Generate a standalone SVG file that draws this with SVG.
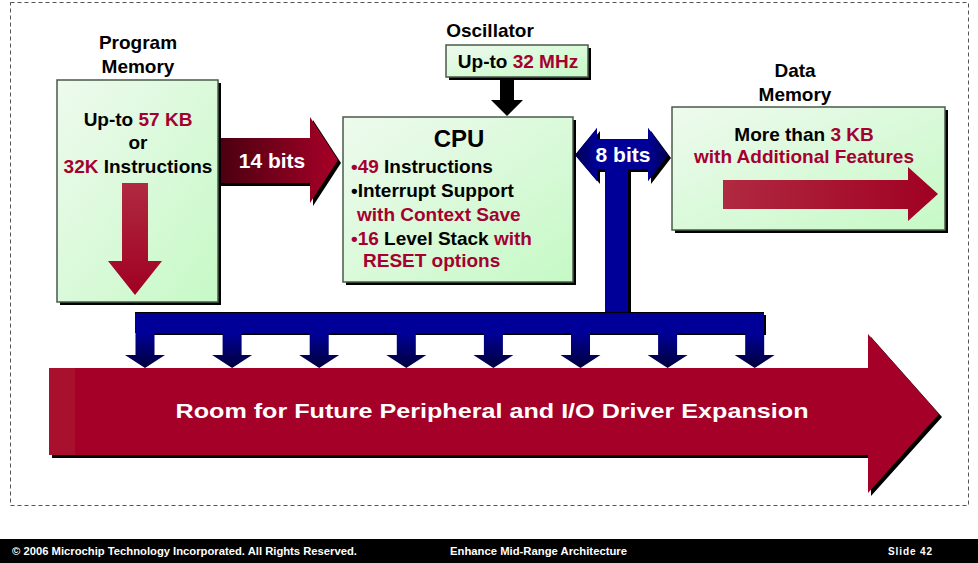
<svg xmlns="http://www.w3.org/2000/svg" width="978" height="563" viewBox="0 0 978 563">
<style>
text{font-family:"Liberation Sans",Arial,sans-serif;font-weight:bold}
.lbl{font-size:19px;fill:#000}
.red{fill:#a50030}
.blk{fill:#000}
.wht{fill:#fff}
.box{fill:url(#gGreen);stroke:#4a5a4a;stroke-width:1.5}
.shadow{fill:#000}
</style>
<defs>
<linearGradient id="gGreen" x1="0" y1="0" x2="1" y2="1">
<stop offset="0" stop-color="#eefaee"/>
<stop offset="1" stop-color="#c6f9c6"/>
</linearGradient>
<linearGradient id="g14" x1="0" y1="0" x2="1" y2="0">
<stop offset="0" stop-color="#4a0010"/>
<stop offset="1" stop-color="#a80028"/>
</linearGradient>
<linearGradient id="gDown" x1="0" y1="0" x2="0" y2="1">
<stop offset="0" stop-color="#b02a40"/>
<stop offset="1" stop-color="#a00022"/>
</linearGradient>
<linearGradient id="gRight" x1="0" y1="0" x2="1" y2="0">
<stop offset="0" stop-color="#b02a40"/>
<stop offset="1" stop-color="#a00022"/>
</linearGradient>
<linearGradient id="gDrop" x1="0" y1="0" x2="0" y2="1">
<stop offset="0" stop-color="#000099"/>
<stop offset="1" stop-color="#00003c"/>
</linearGradient>
<linearGradient id="gHeadL" x1="1" y1="0" x2="0" y2="0">
<stop offset="0" stop-color="#000099"/>
<stop offset="1" stop-color="#000050"/>
</linearGradient>
<linearGradient id="gHeadR" x1="0" y1="0" x2="1" y2="0">
<stop offset="0" stop-color="#000099"/>
<stop offset="1" stop-color="#000050"/>
</linearGradient>
</defs>

<rect x="0" y="0" width="978" height="563" fill="#fff"/>
<rect x="10.5" y="2.5" width="958" height="503" fill="none" stroke="#555" stroke-width="1" stroke-dasharray="4 3"/>

<g id="connectors">
  <g id="arrow-14bits">
    <polygon class="shadow" points="221,141 313,141 313,120 341,163 313,206 313,186 221,186"/>
    <polygon fill="url(#g14)" points="219,138 310,138 310,117 338,160 310,203 310,183 219,183"/>
    <text x="272" y="168" class="wht" font-size="21" text-anchor="middle">14 bits</text>
  </g>
  <g id="arrow-osc">
    <polygon fill="#000" points="500,77 514,77 514,100 523,100 507,116 491,100 500,100"/>
  </g>
  <g id="bus-8bits">
    <polygon class="shadow" points="578,158 600,131 600,142 651,142 651,131 671,158 651,184 651,172 631,172 631,315 766,315 766,335 137,335 137,315 607,315 607,172 600,172 600,184"/>
    <polygon fill="#000099" points="575,155 597,128 597,139 648,139 648,128 668,155 648,181 648,169 628,169 628,313 764,313 764,333 135,333 135,313 605,313 605,169 597,169 597,181"/>
    <polygon fill="url(#gHeadL)" points="575,155 597,128 597,181"/>
    <polygon fill="url(#gHeadR)" points="648,128 668,155 648,181"/>
    <line x1="135" y1="312.5" x2="764" y2="312.5" stroke="#000" stroke-width="1"/>
    <text x="623" y="162" class="wht" font-size="21" text-anchor="middle">8 bits</text>
    <g fill="url(#gDrop)">
      <polygon points="135.5,333 154.5,333 154.5,355 165,355 145,368 125,355 135.5,355"/>
      <polygon points="222.6,333 241.6,333 241.6,355 252.1,355 232.1,368 212.1,355 222.6,355"/>
      <polygon points="309.7,333 328.7,333 328.7,355 339.2,355 319.2,368 299.2,355 309.7,355"/>
      <polygon points="396.8,333 415.8,333 415.8,355 426.3,355 406.3,368 386.3,355 396.8,355"/>
      <polygon points="483.9,333 502.9,333 502.9,355 513.4,355 493.4,368 473.4,355 483.9,355"/>
      <polygon points="571,333 590,333 590,355 600.5,355 580.5,368 560.5,355 571,355"/>
      <polygon points="658.1,333 677.1,333 677.1,355 687.6,355 667.6,368 647.6,355 658.1,355"/>
      <polygon points="745.2,333 764.2,333 764.2,355 774.7,355 754.7,368 734.7,355 745.2,355"/>
    </g>
  </g>
</g>

<g id="program-memory">
  <text x="138" y="49" class="lbl" text-anchor="middle">Program</text>
  <text x="138" y="73" class="lbl" text-anchor="middle">Memory</text>
  <rect x="60" y="83" width="161" height="222" class="shadow"/>
  <rect x="57" y="80" width="161" height="222" class="box"/>
  <text x="138" y="126" class="lbl" text-anchor="middle"><tspan class="blk">Up-to </tspan><tspan class="red">57 KB</tspan></text>
  <text x="138" y="149" class="lbl" text-anchor="middle">or</text>
  <text x="138" y="173" class="lbl" text-anchor="middle"><tspan class="red">32K</tspan><tspan class="blk"> Instructions</tspan></text>
  <polygon fill="url(#gDown)" points="122,183 148,183 148,261 162,261 135,295 108,261 122,261"/>
</g>

<g id="oscillator">
  <text x="490" y="37" class="lbl" text-anchor="middle">Oscillator</text>
  <rect x="449" y="48" width="142" height="32" class="shadow"/>
  <rect x="446" y="45" width="142" height="32" class="box"/>
  <text x="518" y="68" class="lbl" text-anchor="middle"><tspan class="blk">Up-to </tspan><tspan class="red">32 MHz</tspan></text>
</g>

<g id="cpu">
  <rect x="346" y="120" width="230" height="165" class="shadow"/>
  <rect x="343" y="117" width="230" height="165" class="box"/>
  <text x="459" y="147" font-size="24" text-anchor="middle" class="blk">CPU</text>
  <text x="351" y="173" class="lbl"><tspan class="red">•49</tspan><tspan class="blk"> Instructions</tspan></text>
  <text x="351" y="197" class="lbl blk">•Interrupt Support</text>
  <text x="357" y="221" class="lbl red">with Context Save</text>
  <text x="351" y="245" class="lbl"><tspan class="red">•16</tspan><tspan class="blk"> Level Stack </tspan><tspan class="red">with</tspan></text>
  <text x="363" y="267" class="lbl red">RESET options</text>
</g>

<g id="data-memory">
  <text x="795" y="77" class="lbl" text-anchor="middle">Data</text>
  <text x="795" y="101" class="lbl" text-anchor="middle">Memory</text>
  <rect x="675" y="110" width="273" height="123" class="shadow"/>
  <rect x="672" y="107" width="273" height="123" class="box"/>
  <text x="804" y="141" class="lbl" text-anchor="middle"><tspan class="blk">More than </tspan><tspan class="red">3 KB</tspan></text>
  <text x="804" y="163" class="lbl red" text-anchor="middle">with Additional Features</text>
  <polygon fill="url(#gRight)" points="723,180 908,180 908,167 938,194 908,221 908,209 723,209"/>
</g>

<g id="peripheral-expansion">
  <polygon class="shadow" points="52,371 871,371 871,337 942,417 871,496 871,458 52,458"/>
  <polygon fill="#a50028" points="49,368 868,368 868,334 939,414 868,493 868,455 49,455"/>
  <rect x="49" y="368" width="26" height="87" fill="#a8102e"/>
  <text x="492" y="418" class="wht" font-size="21" text-anchor="middle" textLength="633" lengthAdjust="spacingAndGlyphs">Room for Future Peripheral and I/O Driver Expansion</text>
</g>

<g id="footer">
  <rect x="0" y="539" width="978" height="24" fill="#000"/>
  <text x="12" y="555" class="wht" font-size="10" textLength="345" lengthAdjust="spacingAndGlyphs">© 2006 Microchip Technology Incorporated. All Rights Reserved.</text>
  <text x="450" y="555" class="wht" font-size="10" textLength="177" lengthAdjust="spacingAndGlyphs">Enhance Mid-Range Architecture</text>
  <text x="888" y="555" class="wht" font-size="10" textLength="44" lengthAdjust="spacing">Slide  42</text>
</g>
</svg>
